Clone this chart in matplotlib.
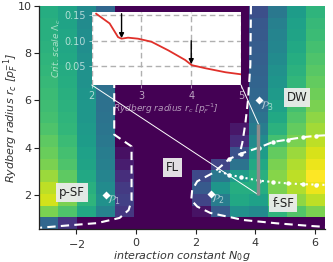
import numpy as np
import matplotlib
matplotlib.use('Agg')
import matplotlib.pyplot as plt
from matplotlib.patches import ConnectionPatch

# ---------------- data ----------------
# heatmap cell edges (interaction constant N0 g, Rydberg radius r_c)
x_edges = np.linspace(-3.25, 6.33, 16)
y_edges = np.linspace(0.55, 10.0, 20)

# order parameter (gap) map, rows listed from top (r_c ~ 10) to bottom (r_c ~ 0.5)
gap_rows = [
    [.62, .58, .48, .33, 0, 0, 0, 0, 0, 0, 0, .24, .40, .55, .65],
    [.63, .58, .48, .33, 0, 0, 0, 0, 0, 0, 0, .27, .43, .57, .67],
    [.63, .59, .49, .34, 0, 0, 0, 0, 0, 0, 0, .28, .45, .58, .68],
    [.64, .59, .49, .34, 0, 0, 0, 0, 0, 0, 0, .29, .46, .60, .70],
    [.65, .60, .50, .35, 0, 0, 0, 0, 0, 0, 0, .30, .48, .62, .72],
    [.66, .61, .51, .35, 0, 0, 0, 0, 0, 0, 0, .31, .50, .64, .74],
    [.67, .62, .51, .36, 0, 0, 0, 0, 0, 0, 0, .32, .52, .66, .76],
    [.68, .63, .52, .37, 0, 0, 0, 0, 0, 0, 0, .33, .54, .68, .78],
    [.69, .64, .53, .37, 0, 0, 0, 0, 0, 0, 0, .35, .57, .70, .80],
    [.70, .65, .53, .38, 0, 0, 0, 0, 0, 0, 0, .38, .60, .73, .83],
    [.72, .66, .54, .39, 0, 0, 0, 0, 0, 0, .06, .42, .64, .76, .86],
    [.75, .68, .55, .40, 0, 0, 0, 0, 0, 0, .12, .48, .70, .80, .90],
    [.77, .70, .57, .42, .04, 0, 0, 0, 0, 0, .25, .55, .76, .85, .94],
    [.80, .72, .58, .43, .08, 0, 0, 0, 0, .20, .38, .60, .80, .88, .97],
    [.85, .75, .60, .45, .13, 0, 0, 0, .22, .40, .55, .63, .82, .90, 1.0],
    [.90, .78, .63, .48, .17, 0, 0, 0, .28, .52, .62, .62, .80, .88, .97],
    [.93, .80, .65, .50, .19, 0, 0, 0, .20, .42, .60, .57, .75, .83, .90],
    [.80, .72, .60, .44, .16, 0, 0, 0, .05, .28, .50, .47, .65, .73, .80],
    [.33, .15, 0, 0, 0, 0, 0, 0, 0, 0, 0, 0, 0, 0, 0],
]

# phase boundaries
psf_x = [-0.73, -0.73, -0.15, -0.15, -0.25, -0.55, -1.3, -2.1, -3.25]
psf_y = [8.6, 4.55, 4.05, 1.75, 1.35, 1.02, 0.8, 0.72, 0.6]
dw_x = [3.85, 3.83, 3.75, 3.66, 3.56, 3.47]
dw_y = [10.0, 7.5, 6.0, 5.0, 4.2, 3.72]
fsf_x = [6.33, 6.04, 5.59, 5.09, 4.59, 4.12, 3.5, 3.13, 2.6, 2.05, 1.88, 1.85,
         2.05, 2.49, 3.6, 4.72, 5.84, 6.33]
fsf_y = [4.52, 4.5, 4.44, 4.34, 4.24, 4.0, 3.74, 3.52, 2.94, 2.57, 2.2, 1.78,
         1.5, 1.23, 0.93, 0.79, 0.68, 0.64]

# computed points
pts_x = [3.13, 3.5, 4.12, 4.59, 5.09, 5.59, 6.04]
upper_y = [3.52, 3.74, 4.0, 4.24, 4.34, 4.44, 4.5]
lower_line_x = [2.77, 3.13, 3.5, 4.12, 4.59, 5.09, 5.59, 6.04, 6.33]
lower_line_y = [2.99, 2.85, 2.75, 2.6, 2.54, 2.48, 2.45, 2.43, 2.42]
lower_pts_y = [2.85, 2.75, 2.6, 2.54, 2.48, 2.45, 2.43]

# special points
P_names = [r'$\mathcal{P}_1$', r'$\mathcal{P}_2$', r'$\mathcal{P}_3$']
P_x = [-1.0, 2.5, 4.12]
P_y = [2.0, 2.04, 6.02]

# phase labels
phase_names = ['p-SF', 'FL', 'DW', 'f-SF']
phase_x = [-2.14, 1.22, 5.39, 4.93]
phase_y = [2.1, 3.14, 6.12, 1.65]

# cut for inset
cut_x = 4.1
cut_r = [2.0, 5.0]

# inset: critical scale vs r_c
rc = [2.09, 2.36, 2.53, 2.6, 2.73, 2.93, 3.2, 3.54, 3.88, 4.01, 4.28, 4.69, 5.0]
lam = [0.153, 0.134, 0.107, 0.104, 0.106, 0.104, 0.098, 0.081, 0.062, 0.052,
       0.046, 0.038, 0.034]
arrow_x = [2.6, 4.0]
arrow_from = [0.153, 0.100]
arrow_to = [0.105, 0.054]

# ---------------- figure ----------------
W, H = 333, 262
fig = plt.figure(figsize=(W / 100, H / 100), dpi=100)
ax = fig.add_axes([39 / W, 1 - 229 / H, (325 - 39) / W, (229 - 6) / H])

gap = np.array(gap_rows)[::-1]
ax.pcolormesh(x_edges, y_edges, gap, cmap='viridis', vmin=0, vmax=1,
              shading='flat', edgecolor='face', linewidth=0.0)
ax.set_xlim(-3.25, 6.33)
ax.set_ylim(0.55, 10.0)

dash = dict(color='white', lw=1.5, dashes=(4, 2.5))
ax.plot(psf_x, psf_y, **dash)
ax.plot(dw_x, dw_y, **dash)
ax.plot(fsf_x, fsf_y, **dash)
ax.plot(pts_x, upper_y, 'o', color='white', ms=3.2, mec='none')
ax.plot(lower_line_x, lower_line_y, color='white', lw=1.5, ls=':')
ax.plot(pts_x, lower_pts_y, 'o', color='white', ms=3.2, mec='none')

ax.plot([cut_x, cut_x], cut_r, color='#8c8c8c', lw=2.5, solid_capstyle='butt')

ax.plot(P_x, P_y, 'D', color='white', ms=3.8, mec='none')
for n, px, py in zip(P_names, P_x, P_y):
    ax.text(px + 0.02, py + 0.05, n, color=(1, 1, 1, 0.6), fontsize=8,
            ha='left', va='top')

for n, px, py in zip(phase_names, phase_x, phase_y):
    ax.text(px, py, n, ha='center', va='center', fontsize=8.5, color='#222222',
            bbox=dict(boxstyle='square,pad=0.25', fc='#ececec', ec='none',
                      alpha=0.95))

for s in ['top', 'right']:
    ax.spines[s].set_visible(False)
for s in ['left', 'bottom']:
    ax.spines[s].set_linewidth(0.9)
    ax.spines[s].set_color('#222222')
ax.set_xticks([-2, 0, 2, 4, 6])
ax.set_xticklabels(['$-2$', '0', '2', '4', '6'])
ax.set_yticks([2, 4, 6, 8, 10])
ax.tick_params(direction='out', length=3.5, width=0.8, labelsize=8,
               colors='#222222', labelcolor='#333333', pad=2)
ax.tick_params(axis='x', pad=3)
ax.set_xlabel('interaction constant $N_0g$', fontsize=8, style='italic',
              color='#333333', labelpad=-1)
ax.set_ylabel('Rydberg radius $r_c$ [$p_F^{-1}$]', fontsize=8, style='italic',
              color='#333333')
ax.yaxis.set_label_coords(-0.062, 0.5)

# ---------------- inset ----------------
axi = fig.add_axes([91.7 / W, 1 - 85 / H, (241 - 91.7) / W, (85 - 11.7) / H])
axi.set_facecolor('white')
axi.plot(rc, lam, color='#e0302a', lw=1.3)
axi.set_xlim(2, 5)
axi.set_ylim(0.013, 0.157)
axi.set_xticks([2, 3, 4, 5])
axi.set_yticks([0.05, 0.10, 0.15])
axi.set_yticklabels(['0.05', '0.10', '0.15'])
axi.grid(True, color='#b0b0b0', lw=1.0, ls=(0, (4, 2.5)))
for s in axi.spines.values():
    s.set_visible(False)
axi.tick_params(direction='out', length=2.5, width=0.6, labelsize=7,
                colors=(1, 1, 1, 0.65), pad=2)
axi.set_xlabel('Rydberg radius $r_c$ [$p_F^{-1}$]', fontsize=6.5,
               style='italic', color=(1, 1, 1, 0.6), labelpad=0)
axi.set_ylabel(r'Crit. scale $\Lambda_c$', fontsize=6.5, style='italic',
               color=(1, 1, 1, 0.6), labelpad=1)
for xa, y0, y1 in zip(arrow_x, arrow_from, arrow_to):
    axi.annotate('', xy=(xa, y1), xytext=(xa, y0),
                 arrowprops=dict(arrowstyle='-|>', color='black', lw=1.0,
                                 mutation_scale=7, shrinkA=0, shrinkB=0))

# connectors from inset to the cut
for xi, rr in zip([2, 5], cut_r):
    con = ConnectionPatch(xyA=(xi, 0.013), coordsA=axi.transData,
                          xyB=(cut_x, rr), coordsB=ax.transData,
                          color='white', lw=0.7)
    ax.add_artist(con)

fig.savefig('out.png', dpi=100)
